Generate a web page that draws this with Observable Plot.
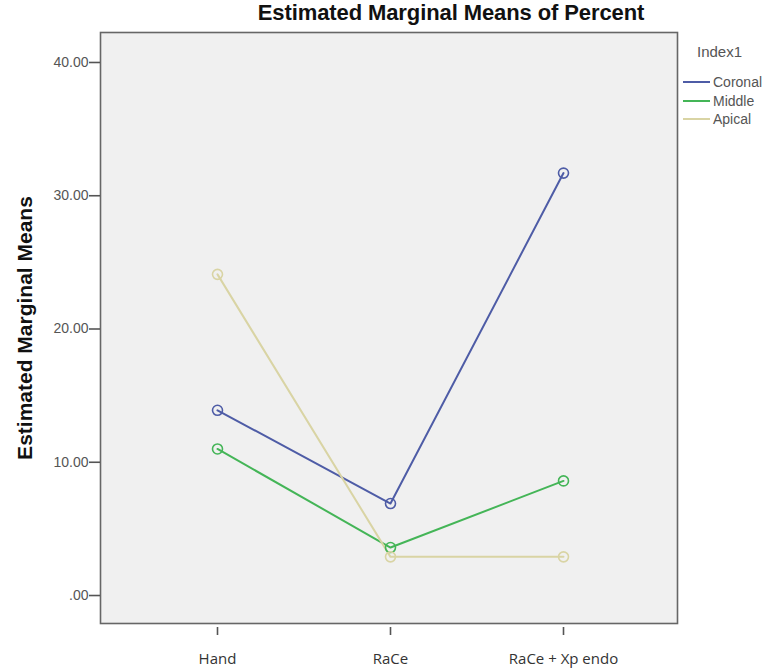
<!DOCTYPE html>
<html><head><meta charset="utf-8">
<script src="https://cdn.jsdelivr.net/npm/d3@7"></script>
<script src="https://cdn.jsdelivr.net/npm/@observablehq/plot@0.6"></script>
<style>
body{margin:0;background:#fff;font-family:"Liberation Sans",Arial,sans-serif;}
#wrap{position:relative;width:782px;height:671px;}
#title{position:absolute;left:246px;top:0px;width:410px;text-align:center;font-weight:bold;font-size:22px;line-height:26px;color:#111;letter-spacing:-0.1px;}
#legend{position:absolute;left:683px;top:43px;font-size:14px;color:#555;}
</style></head>
<body><div id="wrap"><div id="title">Estimated Marginal Means of Percent</div><div id="legend"></div></div>
<script>
const methods = ["Hand", "RaCe", "RaCe + Xp endo"];
const indexes = ["Coronal", "Middle", "Apical"];
const coronal = [13.9, 6.9, 31.7];
const middle = [11.0, 3.6, 8.6];
const apical = [24.1, 2.9, 2.9];
const colors = ["#4e5ca6", "#44b557", "#d9d4a4"];
const yTicks = [0, 10, 20, 30, 40];

const series = [coronal, middle, apical];
const data = [];
indexes.forEach((s, i) => methods.forEach((m, j) => data.push({index: s, method: m, value: series[i][j]})));

const plot = Plot.plot({
  width: 782, height: 671,
  marginLeft: 100, marginRight: 105, marginTop: 32, marginBottom: 48,
  style: {fontFamily: "Liberation Sans, Arial, sans-serif", background: "transparent"},
  x: {type: "point", domain: methods, range: [216, 563], padding: 0, label: null},
  y: {domain: [-2.1, 42.25], label: null},
  color: {domain: indexes, range: colors},
  marks: [
    Plot.frame({fill: "#f0f0f0", stroke: "none"}),
    Plot.line(data, {x: "method", y: "value", z: "index", stroke: "index", strokeWidth: 2}),
    Plot.dot(data, {x: "method", y: "value", stroke: "index", r: 5, strokeWidth: 1.6, fill: "none"}),
    Plot.frame({stroke: "#666", strokeWidth: 1.6}),
    Plot.axisY({ticks: yTicks, tickSize: 11, tickPadding: 1, tickFormat: d => d === 0 ? ".00" : d.toFixed(2), fontSize: 14, color: "#555", stroke: "#555", strokeWidth: 1.6, label: null}),
    Plot.axisX({tickSize: 8, tickPadding: 18, dy: 4, fontSize: 15, fontFamily: "Open Sans", color: "#333", stroke: "#555", strokeWidth: 1.6, label: null}),
    Plot.text(["Estimated Marginal Means"], {frameAnchor: "left", textAnchor: "middle", dx: -75, rotate: -90, fontSize: 21, fontWeight: "bold", fill: "#111"})
  ]
});
document.getElementById("wrap").prepend(plot);
plot.style.position = "absolute"; plot.style.left = "0"; plot.style.top = "0";

const leg = d3.select("#legend");
leg.append("div").text("Index1").style("font-size", "15px").style("margin-bottom", "13px").style("margin-left", "14px");
indexes.forEach((s, i) => {
  const row = leg.append("div").style("display", "flex").style("align-items", "center").style("height", "18.5px");
  row.append("span").style("display", "inline-block").style("width", "27px").style("height", "2px").style("background", colors[i]).style("margin-right", "3px");
  row.append("span").text(s);
});
</script></body></html>
